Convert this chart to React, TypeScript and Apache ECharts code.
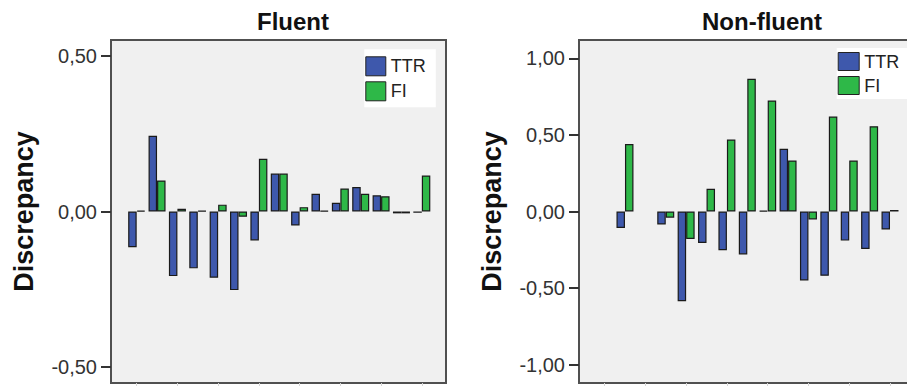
import React, { useEffect, useRef } from 'react';
import * as echarts from 'echarts';

// ---- data ----
const fluentCases = ['F01', 'F02', 'F03', 'F04', 'F05', 'F06', 'F07', 'F08', 'F09', 'F10', 'F11', 'F12', 'F13', 'F14', 'F15'];
const fluentTTR = [-0.115, 0.244, -0.208, -0.183, -0.213, -0.253, -0.093, 0.122, -0.045, 0.057, 0.028, 0.079, 0.052, -0.006, -0.004];
const fluentFI = [0.003, 0.1, 0.009, 0.002, 0.022, -0.017, 0.17, 0.122, 0.014, 0.002, 0.074, 0.057, 0.049, -0.006, 0.116];

const nonFluentCases = ['N01', 'N02', 'N03', 'N04', 'N05', 'N06', 'N07', 'N08', 'N09', 'N10', 'N11', 'N12', 'N13', 'N14', 'N15'];
const nonFluentTTR = ['-', -0.107, '-', -0.085, -0.586, -0.205, -0.253, -0.28, 0.005, 0.41, -0.45, -0.42, -0.19, -0.245, -0.118];
const nonFluentFI = ['-', 0.44, '-', -0.04, -0.18, 0.148, 0.47, 0.867, 0.725, 0.333, -0.052, 0.62, 0.333, 0.557, 0.01];

const fluentTicks = [-0.5, 0, 0.5];
const nonFluentTicks = [-1, -0.5, 0, 0.5, 1];
const seriesNames = ['TTR', 'FI'];
const panelTitles = ['Fluent', 'Non-fluent'];
const axisTitle = 'Discrepancy';

const FONT = 'Liberation Sans, Arial, Helvetica, sans-serif';
const BLUE = '#3e58ac';
const GREEN = '#2eb848';
const FRAME = '#505050';

function fmt(v: number) {
  return v.toFixed(2).replace('.', ',');
}

function yAxisFor(gridIndex: number, lim: number, ticks: number[], offset: number) {
  return {
    type: 'value',
    gridIndex,
    min: -lim,
    max: lim,
    offset,
    axisLine: { show: true, lineStyle: { color: FRAME, width: 2 } },
    axisTick: { show: true, length: 10, customValues: ticks, lineStyle: { color: '#333', width: 2 } },
    axisLabel: {
      customValues: ticks,
      formatter: (v: number) => fmt(v),
      fontSize: 20,
      color: '#333',
      fontFamily: FONT,
      margin: 14,
    },
    splitLine: { show: false },
    name: axisTitle,
    nameLocation: 'middle',
    nameGap: 74,
    nameTextStyle: { fontSize: 27, fontWeight: 'bold', color: '#111', fontFamily: FONT },
  };
}

function xAxisFor(gridIndex: number, data: string[]) {
  return {
    type: 'category',
    gridIndex,
    data,
    position: 'bottom',
    boundaryGap: true,
    axisLine: { show: false, onZero: false },
    axisTick: { show: true, alignWithLabel: true, length: 3, lineStyle: { color: '#d6d6d6', width: 1 } },
    axisLabel: { show: false },
    splitLine: { show: false },
  };
}

function barSeries(name: string, data: any[], idx: number, color: string) {
  return {
    type: 'bar',
    name,
    data,
    xAxisIndex: idx,
    yAxisIndex: idx,
    barWidth: 8.5,
    barGap: '0%',
    z: 3,
    itemStyle: { color, borderColor: '#1a1a1a', borderWidth: 1.2 },
  };
}

function legendFor(left: number, top: number, padding: number[], w: number, h: number, gap: number) {
  return {
    left,
    top,
    orient: 'vertical',
    padding,
    itemWidth: w,
    itemHeight: h,
    itemGap: gap,
    backgroundColor: '#ffffff',
    icon: 'rect',
    selectedMode: false,
    data: seriesNames,
    itemStyle: { borderColor: '#222', borderWidth: 1 },
    textStyle: { fontSize: 18, color: '#222', fontFamily: FONT, lineHeight: h },
  };
}

export default function App() {
  const ref = useRef<HTMLDivElement>(null);

  useEffect(() => {
    if (!ref.current) return;
    const chart = echarts.init(ref.current, undefined, { renderer: 'svg' });
    const option: any = {
      animation: false,
      backgroundColor: '#ffffff',
      grid: [
        { left: 126.5, top: 40, width: 305.5, height: 343 },
        { left: 594.4, top: 40, width: 305.8, height: 343 },
      ],
      xAxis: [xAxisFor(0, fluentCases), xAxisFor(1, nonFluentCases)],
      yAxis: [yAxisFor(0, 0.552, fluentTicks, 15.5), yAxisFor(1, 1.12, nonFluentTicks, 15.4)],
      legend: [
        legendFor(364.3, 49.3, [7, 10, 6, 1], 20, 19, 5),
        legendFor(836.7, 48, [4, 10, 4, 1], 21, 18, 5),
      ],
      graphic: [
        {
          type: 'rect',
          z: -10,
          silent: true,
          shape: { x: 111, y: 40, width: 335, height: 343 },
          style: { fill: '#f0f0f0', stroke: FRAME, lineWidth: 2 },
        },
        {
          type: 'rect',
          z: -10,
          silent: true,
          shape: { x: 579, y: 40, width: 345, height: 343 },
          style: { fill: '#f0f0f0', stroke: FRAME, lineWidth: 2 },
        },
        {
          type: 'text',
          x: 293,
          y: 9,
          style: {
            text: panelTitles[0],
            fontSize: 24,
            fontWeight: 'bold',
            fontFamily: FONT,
            fill: '#111',
            align: 'center',
            verticalAlign: 'top',
          },
        },
        {
          type: 'text',
          x: 762,
          y: 9,
          style: {
            text: panelTitles[1],
            fontSize: 24,
            fontWeight: 'bold',
            fontFamily: FONT,
            fill: '#111',
            align: 'center',
            verticalAlign: 'top',
          },
        },
      ],
      series: [
        barSeries(seriesNames[0], fluentTTR, 0, BLUE),
        barSeries(seriesNames[1], fluentFI, 0, GREEN),
        barSeries(seriesNames[0], nonFluentTTR, 1, BLUE),
        barSeries(seriesNames[1], nonFluentFI, 1, GREEN),
      ],
    };
    chart.setOption(option);
    return () => {
      chart.dispose();
    };
  }, []);

  return (
    <div
      ref={ref}
      style={{ position: 'fixed', left: 0, top: 0, width: 907, height: 387, background: '#fff' }}
    />
  );
}
